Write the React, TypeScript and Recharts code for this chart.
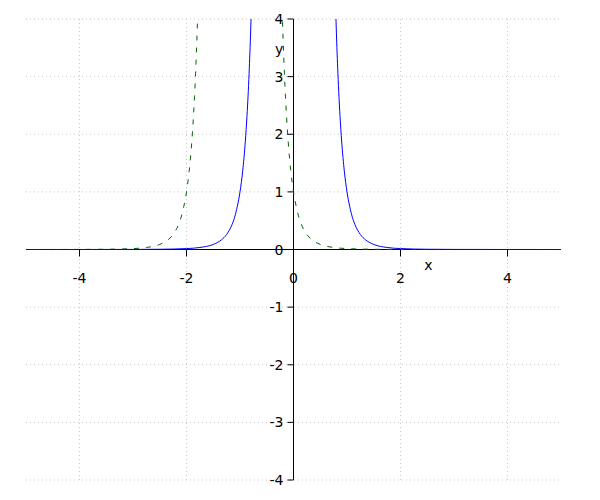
import React from "react";
import {
  LineChart, Line, XAxis, YAxis, CartesianGrid, ReferenceLine, ReferenceDot,
} from "recharts";

// values (solid blue branch pair, dashed green branch pair)
const blueX = [
  -5, -4, -3, -2.5, -2, -1.75, -1.5, -1.35, -1.25, -1.15, -1.1, -1.05, -1, -0.95, -0.9,
  -0.87, -0.85, -0.83, -0.8, -0.78, -0.75, 0, 0.75, 0.78, 0.8, 0.83, 0.85, 0.87, 0.9,
  0.95, 1, 1.05, 1.1, 1.15, 1.25, 1.35, 1.5, 1.75, 2, 2.5, 3, 4, 5,
];
const blueY = [
  0, 0.0002, 0.0014, 0.004, 0.016, 0.035, 0.088, 0.165, 0.26, 0.43, 0.56, 0.75, 1, 1.36, 1.88,
  2.31, 2.65, 3.06, 3.81, 4.44, 5.62, null, 5.62, 4.44, 3.81, 3.06, 2.65, 2.31, 1.88,
  1.36, 1, 0.75, 0.56, 0.43, 0.26, 0.165, 0.088, 0.035, 0.016, 0.004, 0.0014, 0.0002, 0,
];

const greenX = [
  -5, -4, -3.5, -3, -2.75, -2.5, -2.35, -2.25, -2.15, -2.1, -2.05, -2, -1.95, -1.9, -1.87,
  -1.85, -1.83, -1.8, -1.78, -1.75, -1, -0.25, -0.22, -0.2, -0.17, -0.15, -0.13, -0.1,
  -0.05, 0, 0.05, 0.1, 0.15, 0.25, 0.35, 0.5, 0.75, 1, 1.5, 2, 3, 4, 5,
];
const greenY = [
  0.0002, 0.0014, 0.004, 0.016, 0.035, 0.088, 0.165, 0.26, 0.43, 0.56, 0.75, 1, 1.36, 1.88, 2.31,
  2.65, 3.06, 3.81, 4.44, 5.62, null, 5.62, 4.44, 3.81, 3.06, 2.65, 2.31, 1.88,
  1.36, 1, 0.75, 0.56, 0.43, 0.26, 0.165, 0.088, 0.035, 0.016, 0.004, 0.0014, 0.0002, 0.0001, 0,
];

const xTicks = [-4, -2, 0, 2, 4];
const yTicks = [-4, -3, -2, -1, 0, 1, 2, 3, 4];

const W = 600;
const H = 500;
const M = { top: 19, right: 39, bottom: 19, left: 25 };
const PW = W - M.left - 1 - M.right;
const PH = H - M.top - 1 - M.bottom;
const X0 = M.left + 1 + PW / 2;
const Y0 = M.top + PH / 2;
const FONT = "DejaVu Sans, sans-serif";

const blueData = blueX.map((x, i) => ({ x, y: blueY[i] }));
const greenData = greenX.map((x, i) => ({ x, y: greenY[i] }));

const renderXTick = (props: any) => {
  const { x, payload } = props;
  return (
    <g>
      <line x1={x} x2={x} y1={Y0} y2={Y0 + 7} stroke="#000" />
      <text x={x} y={Y0 + 33} textAnchor="middle" fontSize={14} fontFamily={FONT} fill="#000">
        {payload.value}
      </text>
    </g>
  );
};

const renderYTick = (props: any) => {
  const { y, payload } = props;
  return (
    <g>
      <line x1={X0 - 6} x2={X0} y1={y} y2={y} stroke="#000" />
      <text x={X0 - 10} y={y + 5} textAnchor="end" fontSize={14} fontFamily={FONT} fill="#000">
        {payload.value}
      </text>
    </g>
  );
};

const xGrid = () => xTicks.filter((t) => t !== 0).map((t) => M.left + 1 + ((t + 5) / 10) * PW);

export default function App() {
  return (
    <div style={{ position: "absolute", left: 0, top: 0, background: "#fff" }}>
      <LineChart width={W} height={H} margin={M}>
        <CartesianGrid
          stroke="#c8c8c8" strokeDasharray="1 3" verticalCoordinatesGenerator={xGrid}
        />
        <XAxis
          type="number" dataKey="x" domain={[-5, 5]} ticks={xTicks} allowDataOverflow
          axisLine={false} tickLine={false} height={1} tick={renderXTick} interval={0}
        />
        <YAxis
          type="number" dataKey="y" domain={[-4, 4]} ticks={yTicks} allowDataOverflow
          axisLine={false} tickLine={false} width={1} tick={renderYTick} interval={0}
        />
        <ReferenceLine x={0} stroke="#000" strokeWidth={1} />
        <ReferenceLine y={0} stroke="#000" strokeWidth={1} />
        <Line
          data={greenData} dataKey="y" type="monotone" stroke="#006400" strokeWidth={1}
          strokeDasharray="5 7" dot={false} activeDot={false} isAnimationActive={false}
        />
        <Line
          data={blueData} dataKey="y" type="monotone" stroke="#0000ff" strokeWidth={1}
          dot={false} activeDot={false} isAnimationActive={false}
        />
        <ReferenceDot
          x={2.52} y={-0.27} r={0} fill="none" stroke="none"
          label={{ value: "x", position: "center", fontSize: 14, fontFamily: FONT, fill: "#000" }}
        />
        <ReferenceDot
          x={-0.27} y={3.48} r={0} fill="none" stroke="none"
          label={{ value: "y", position: "center", fontSize: 14, fontFamily: FONT, fill: "#000" }}
        />
      </LineChart>
    </div>
  );
}
